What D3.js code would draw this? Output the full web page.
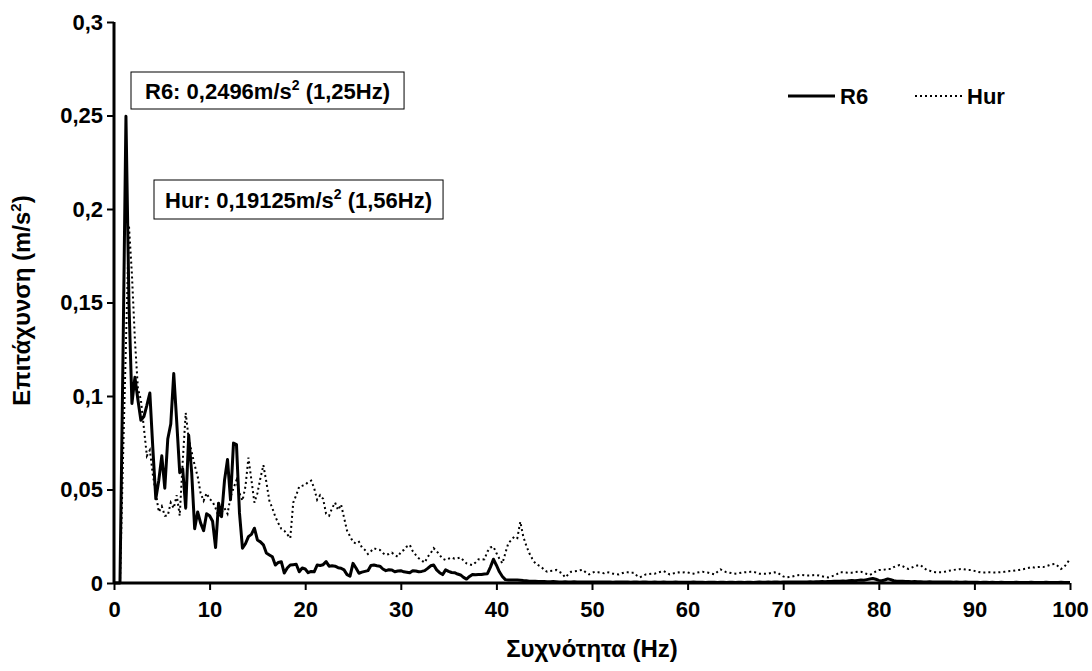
<!DOCTYPE html>
<html>
<head>
<meta charset="utf-8">
<script src="https://cdn.jsdelivr.net/npm/d3@7"></script>
<style>
  body { margin: 0; background: #fff; }
  text { font-family: "Liberation Sans", Arial, sans-serif; font-weight: bold; fill: #000; }
</style>
</head>
<body>
<script>
/* Spectrum data: one value every FREQ_STEP Hz, from 0 to 100 Hz (16 values per 5 Hz row) */

var FREQ_STEP = 0.3125;

var r6Values = [
  0, 0, 0, 0.12, 0.2496, 0.15, 0.096, 0.110, 0.098, 0.087, 0.089, 0.095, 0.1016, 0.072, 0.045, 0.055,
  0.068, 0.0507, 0.077, 0.085, 0.112, 0.086, 0.059, 0.061, 0.040, 0.079, 0.059, 0.029, 0.038, 0.032, 0.028, 0.037,
  0.036, 0.033, 0.019, 0.0427, 0.0355, 0.055, 0.066, 0.0445, 0.0748, 0.074, 0.0375, 0.0186, 0.021, 0.0248, 0.026, 0.0293,
  0.023, 0.022, 0.0204, 0.016, 0.015, 0.014, 0.0096, 0.011, 0.0114, 0.0053, 0.008, 0.0096, 0.0098, 0.010, 0.006, 0.008,
  0.0075, 0.0055, 0.0062, 0.006, 0.0096, 0.0094, 0.0098, 0.0114, 0.009, 0.0092, 0.009, 0.0082, 0.0079, 0.007, 0.0045, 0.0037,
  0.0105, 0.008, 0.0052, 0.0058, 0.0062, 0.0066, 0.0094, 0.0096, 0.0092, 0.009, 0.0075, 0.0066, 0.0071, 0.007, 0.006, 0.0064,
  0.0066, 0.006, 0.0058, 0.0055, 0.0066, 0.0064, 0.006, 0.0062, 0.0066, 0.0078, 0.0092, 0.0096, 0.007, 0.0055, 0.0045, 0.007,
  0.0062, 0.0056, 0.0055, 0.0048, 0.0043, 0.003, 0.0021, 0.0035, 0.0046, 0.0044, 0.0046, 0.0045, 0.0048, 0.005, 0.0085, 0.0127,
  0.0095, 0.006, 0.0035, 0.0018, 0.0016, 0.0016, 0.0016, 0.0016, 0.0015, 0.0013, 0.0012, 0.001, 0.001, 0.0009, 0.0008, 0.0008,
  0.0008, 0.0007, 0.0007, 0.0008, 0.0007, 0.0006, 0.0006, 0.0007, 0.0006, 0.0006, 0.0007, 0.0006, 0.0005, 0.0006, 0.0006, 0.0005,
  0.0005, 0.0006, 0.0005, 0.0005, 0.0006, 0.0005, 0.0005, 0.0004, 0.0005, 0.0005, 0.0006, 0.0005, 0.0005, 0.0004, 0.0005, 0.0005,
  0.0004, 0.0005, 0.0005, 0.0004, 0.0004, 0.0005, 0.0004, 0.0004, 0.0005, 0.0004, 0.0004, 0.0004, 0.0005, 0.0004, 0.0004, 0.0004,
  0.0004, 0.0004, 0.0005, 0.0004, 0.0004, 0.0004, 0.0003, 0.0004, 0.0004, 0.0004, 0.0003, 0.0004, 0.0004, 0.0003, 0.0004, 0.0004,
  0.0003, 0.0004, 0.0004, 0.0003, 0.0004, 0.0004, 0.0003, 0.0004, 0.0005, 0.0004, 0.0004, 0.0005, 0.0004, 0.0005, 0.0005, 0.0004,
  0.0005, 0.0005, 0.0006, 0.0005, 0.0005, 0.0006, 0.0006, 0.0005, 0.0006, 0.0007, 0.0006, 0.0007, 0.0007, 0.0008, 0.0007, 0.0008,
  0.0008, 0.0009, 0.0009, 0.001, 0.0011, 0.001, 0.0012, 0.0013, 0.0012, 0.0014, 0.0016, 0.0015, 0.0018, 0.0021, 0.0024, 0.002,
  0.0014, 0.0012, 0.0016, 0.0022, 0.0018, 0.0012, 0.001, 0.0009, 0.0009, 0.0008, 0.0008, 0.0007, 0.0008, 0.0007, 0.0007, 0.0006,
  0.0006, 0.0007, 0.0006, 0.0006, 0.0005, 0.0006, 0.0005, 0.0005, 0.0005, 0.0004, 0.0005, 0.0004, 0.0004, 0.0005, 0.0004, 0.0004,
  0.0004, 0.0004, 0.0003, 0.0004, 0.0004, 0.0003, 0.0004, 0.0003, 0.0003, 0.0004, 0.0003, 0.0003, 0.0003, 0.0003, 0.0004, 0.0003,
  0.0003, 0.0003, 0.0003, 0.0004, 0.0003, 0.0003, 0.0003, 0.0003, 0.0004, 0.0003, 0.0003, 0.0003, 0.0003, 0.0004, 0.0003, 0.0003,
  0.0003
];

var hurValues = [
  0, 0, 0, 0.065, 0.128, 0.19125, 0.165, 0.13, 0.104, 0.098, 0.083, 0.068, 0.071, 0.058, 0.048, 0.038,
  0.041, 0.036, 0.036, 0.043, 0.040, 0.047, 0.036, 0.065, 0.091, 0.077, 0.070, 0.063, 0.057, 0.048, 0.044, 0.048,
  0.045, 0.0435, 0.040, 0.0355, 0.038, 0.040, 0.037, 0.046, 0.0507, 0.055, 0.048, 0.044, 0.0516, 0.067, 0.055, 0.043,
  0.048, 0.056, 0.063, 0.054, 0.044, 0.040, 0.0355, 0.032, 0.029, 0.028, 0.026, 0.024, 0.043, 0.047, 0.0516, 0.052,
  0.0525, 0.054, 0.0548, 0.0507, 0.0445, 0.047, 0.045, 0.037, 0.036, 0.040, 0.043, 0.039, 0.042, 0.035, 0.028, 0.025,
  0.022, 0.021, 0.022, 0.019, 0.0177, 0.0155, 0.017, 0.0186, 0.018, 0.0177, 0.016, 0.015, 0.0155, 0.0162, 0.015, 0.014,
  0.0165, 0.0177, 0.0195, 0.0204, 0.017, 0.015, 0.0132, 0.012, 0.0109, 0.014, 0.016, 0.0186, 0.017, 0.015, 0.013, 0.0123,
  0.013, 0.0136, 0.013, 0.0132, 0.0136, 0.012, 0.0105, 0.010, 0.0096, 0.011, 0.0127, 0.0125, 0.0127, 0.0168, 0.019, 0.0195,
  0.016, 0.013, 0.0105, 0.016, 0.0213, 0.023, 0.0248, 0.024, 0.0328, 0.0248, 0.020, 0.016, 0.013, 0.0105, 0.0095, 0.0087,
  0.007, 0.006, 0.0064, 0.0066, 0.007, 0.006, 0.0052, 0.003, 0.0045, 0.006, 0.0062, 0.0064, 0.0068, 0.007, 0.0055, 0.0046,
  0.0055, 0.006, 0.0058, 0.0055, 0.0052, 0.0058, 0.0055, 0.005, 0.0048, 0.0046, 0.0052, 0.0057, 0.0057, 0.0054, 0.0055, 0.004,
  0.003, 0.0038, 0.0046, 0.0048, 0.005, 0.005, 0.0056, 0.006, 0.0064, 0.0055, 0.0046, 0.005, 0.0055, 0.0057, 0.0056, 0.0057,
  0.0057, 0.0052, 0.005, 0.0055, 0.0058, 0.006, 0.0057, 0.0055, 0.005, 0.0046, 0.006, 0.0073, 0.0065, 0.0057, 0.0055, 0.0052,
  0.005, 0.0052, 0.0055, 0.0057, 0.0058, 0.006, 0.006, 0.0055, 0.005, 0.005, 0.005, 0.005, 0.0054, 0.0057, 0.0056, 0.0045,
  0.0035, 0.003, 0.0032, 0.0034, 0.0038, 0.0042, 0.0043, 0.0042, 0.004, 0.004, 0.0042, 0.0043, 0.004, 0.0036, 0.0032, 0.003,
  0.0034, 0.004, 0.0048, 0.0058, 0.0057, 0.0056, 0.0055, 0.0055, 0.0058, 0.006, 0.006, 0.0055, 0.0048, 0.0043, 0.0052, 0.0062,
  0.007, 0.007, 0.0072, 0.0075, 0.0075, 0.0085, 0.0092, 0.0096, 0.009, 0.008, 0.0075, 0.0082, 0.009, 0.0094, 0.0096, 0.0082,
  0.007, 0.0066, 0.006, 0.0058, 0.0057, 0.0057, 0.006, 0.0064, 0.0067, 0.007, 0.0072, 0.0074, 0.0075, 0.0072, 0.007, 0.007,
  0.0065, 0.006, 0.0057, 0.0056, 0.0057, 0.0057, 0.0057, 0.0056, 0.0057, 0.0058, 0.006, 0.0062, 0.0064, 0.0065, 0.0068, 0.007,
  0.0073, 0.0076, 0.008, 0.0085, 0.0083, 0.0085, 0.0086, 0.0085, 0.009, 0.0095, 0.01, 0.0102, 0.009, 0.0075, 0.0085, 0.0105,
  0.013
];

var xTicks = [0, 10, 20, 30, 40, 50, 60, 70, 80, 90, 100],
    yTicks = [0, 0.05, 0.1, 0.15, 0.2, 0.25, 0.3];

var seriesNames = ["R6", "Hur"];

var peakLabels = [
  {name: "R6",  value: "0,2496",  freq: "1,25"},
  {name: "Hur", value: "0,19125", freq: "1,56"}
];

/* Measures */

var W = 1092,
    H = 671;

var PLOT = {left: 114, right: 1070, top: 22, bottom: 583};

var TICK_FONT  = 22,
    TITLE_FONT = 24,
    LABEL_FONT = 22;

var svg = d3.select("body").append("svg")
  .attr("width", W)
  .attr("height", H);

var x = d3.scaleLinear().domain([0, 100]).range([PLOT.left, PLOT.right]);
var y = d3.scaleLinear().domain([0, 0.3]).range([PLOT.bottom, PLOT.top]);

function comma(d) { return String(+d.toFixed(2)).replace(".", ","); }

/* Axes */

var xAxis = svg.append("g")
  .attr("transform", "translate(0," + PLOT.bottom + ")")
  .call(d3.axisBottom(x).tickValues(xTicks).tickSize(7).tickPadding(11).tickFormat(d3.format("d")));

var yAxis = svg.append("g")
  .attr("transform", "translate(" + PLOT.left + ",0)")
  .call(d3.axisLeft(y).tickValues(yTicks).tickSize(7).tickPadding(4).tickFormat(comma));

[xAxis, yAxis].forEach(function(a) {
  a.select(".domain").attr("stroke", "#000").attr("stroke-width", 3);
  a.selectAll(".tick line").attr("stroke", "#000").attr("stroke-width", 2);
  a.selectAll(".tick text").style("font-size", TICK_FONT + "px").style("font-family", null);
});
xAxis.select(".domain").attr("d", "M" + PLOT.left + ",0H" + PLOT.right);
yAxis.select(".domain").attr("d", "M0," + PLOT.top + "V" + PLOT.bottom);

svg.append("text")
  .attr("x", (PLOT.left + PLOT.right) / 2)
  .attr("y", 657)
  .attr("text-anchor", "middle")
  .style("font-size", TITLE_FONT + "px")
  .text("Συχνότητα (Hz)");

var yTitle = svg.append("text")
  .attr("transform", "translate(30," + ((PLOT.top + PLOT.bottom) / 2 - 2) + ") rotate(-90)")
  .attr("text-anchor", "middle")
  .style("font-size", TITLE_FONT + "px");
yTitle.append("tspan").text("Επιτάχυνση (m/s");
yTitle.append("tspan").attr("dy", -9).style("font-size", "15px").text("2");
yTitle.append("tspan").attr("dy", 9).text(")");

/* Series */

var line = d3.line()
  .x(function(d, i) { return x(i * FREQ_STEP); })
  .y(function(d) { return y(d); });

svg.append("path")
  .datum(hurValues)
  .attr("fill", "none")
  .attr("stroke", "#000")
  .attr("stroke-width", 2)
  .attr("stroke-dasharray", "2,3")
  .attr("d", line);

svg.append("path")
  .datum(r6Values)
  .attr("fill", "none")
  .attr("stroke", "#000")
  .attr("stroke-width", 3)
  .attr("stroke-linejoin", "round")
  .attr("d", line);

/* Legend */

var legend = svg.append("g").attr("transform", "translate(788,96)");

legend.selectAll("line")
  .data(seriesNames)
  .enter().append("line")
  .attr("x1", function(d, i) { return i * 127; })
  .attr("x2", function(d, i) { return i * 127 + 47; })
  .attr("stroke", "#000")
  .attr("stroke-width", function(d, i) { return i ? 2 : 3; })
  .attr("stroke-dasharray", function(d, i) { return i ? "2,3" : null; });

legend.selectAll("text")
  .data(seriesNames)
  .enter().append("text")
  .attr("x", function(d, i) { return i * 127 + 52; })
  .attr("y", 8)
  .style("font-size", LABEL_FONT + "px")
  .text(String);

/* Peak annotations */

var boxPos = [{x: 131, y: 72, h: 37, pad: 14}, {x: 154, y: 180, h: 39, pad: 11}];

var boxes = svg.selectAll("g.peak")
  .data(peakLabels)
  .enter().append("g")
  .attr("class", "peak")
  .attr("transform", function(d, i) { return "translate(" + boxPos[i].x + "," + boxPos[i].y + ")"; });

var boxText = boxes.append("text")
  .attr("x", function(d, i) { return boxPos[i].pad; })
  .attr("y", function(d, i) { return boxPos[i].h / 2 + 8; })
  .style("font-size", LABEL_FONT + "px");
boxText.append("tspan").text(function(d) { return d.name + ": " + d.value + "m/s"; });
boxText.append("tspan").attr("dy", -9).style("font-size", "14px").text("2");
boxText.append("tspan").attr("dy", 9).text(function(d) { return " (" + d.freq + "Hz)"; });

boxes.insert("rect", "text")
  .attr("width", function(d, i) { return this.parentNode.querySelector("text").getBBox().width + 2 * boxPos[i].pad; })
  .attr("height", function(d, i) { return boxPos[i].h; })
  .attr("fill", "#fff")
  .attr("stroke", "#000")
  .attr("stroke-width", 1);
</script>
</body>
</html>
